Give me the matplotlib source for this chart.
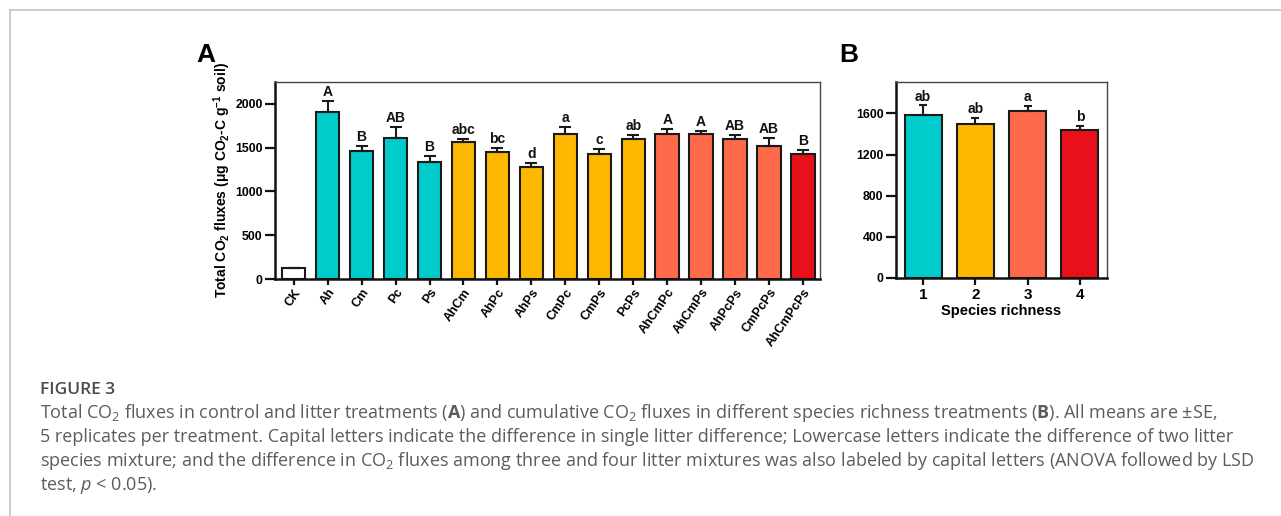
import matplotlib
matplotlib.use("Agg")
import matplotlib.pyplot as plt
from matplotlib.lines import Line2D
import numpy as np

# ---------------- data ----------------
treatments = ["CK", "Ah", "Cm", "Pc", "Ps", "AhCm", "AhPc", "AhPs", "CmPc", "CmPs",
              "PcPs", "AhCmPc", "AhCmPs", "AhPcPs", "CmPcPs", "AhCmPcPs"]
flux_mean = [120, 1912, 1463, 1608, 1341, 1569, 1455, 1276, 1661, 1429,
             1603, 1661, 1661, 1597, 1520, 1429]
flux_se = [10, 122, 60, 129, 65, 34, 39, 46, 73, 53, 46, 53, 27, 45, 95, 45]
flux_letters = ["", "A", "B", "AB", "B", "abc", "bc", "d", "a", "c", "ab",
                "A", "A", "AB", "AB", "B"]
flux_richness = [0, 1, 1, 1, 1, 2, 2, 2, 2, 2, 2, 3, 3, 3, 3, 4]

richness = ["1", "2", "3", "4"]
rich_mean = [1584, 1500, 1619, 1442]
rich_se = [93, 52, 55, 38]
rich_letters = ["ab", "ab", "a", "b"]

# ---------------- style ----------------
palette = {0: "#ffffff", 1: "#00cccc", 2: "#ffb800", 3: "#ff6a4a", 4: "#e8101a"}
plt.rcParams["mathtext.default"] = "regular"
plt.rcParams["mathtext.fontset"] = "custom"
plt.rcParams["mathtext.rm"] = "Open Sans"
plt.rcParams["mathtext.bf"] = "Open Sans:bold"
plt.rcParams["mathtext.it"] = "Open Sans:italic"
CF = ["Liberation Sans", "DejaVu Sans"]

W, H = 1281, 516
fig = plt.figure(figsize=(W / 100, H / 100), dpi=100)


def box(l, r, t, b):
    return [l / W, 1 - b / H, (r - l) / W, (b - t) / H]


def style_axes(ax):
    for s in ["left", "bottom"]:
        ax.spines[s].set_linewidth(1.8)
        ax.spines[s].set_color("#111111")
    for s in ["top", "right"]:
        ax.spines[s].set_linewidth(1.0)
        ax.spines[s].set_color("#444444")
    ax.tick_params(axis="both", direction="out", length=7, width=1.6, color="#111111", pad=2)
    ax.tick_params(axis="y", labelsize=8.8)
    for lab in ax.get_yticklabels():
        lab.set_fontweight("bold")
        lab.set_family(CF)


# ---------------- panel A ----------------
axA = fig.add_axes(box(275, 820, 82, 279))
x = np.arange(len(treatments))
colA = [palette[r] for r in flux_richness]
axA.bar(x, flux_mean, width=0.69, color=colA, edgecolor="#1a1a1a", linewidth=1.5, zorder=2)
axA.errorbar(x, flux_mean, yerr=[np.zeros(len(x)), flux_se], fmt="none", ecolor="#1a1a1a",
             elinewidth=1.5, capsize=4, capthick=1.5, zorder=3)
for xi, m, s, t in zip(x, flux_mean, flux_se, flux_letters):
    if t:
        axA.text(xi, m + s + 22, t, ha="center", va="bottom", fontsize=10,
                 fontweight="bold", family=CF, color="#111111")
axA.set_xlim(-0.55, len(x) - 0.5)
axA.set_ylim(0, 2250)
axA.set_yticks([0, 500, 1000, 1500, 2000])
axA.set_xticks(x)
axA.set_xticklabels(treatments, rotation=55, ha="right", rotation_mode="anchor",
                    fontsize=9, fontweight="bold", family=CF)
style_axes(axA)
axA.tick_params(axis="x", length=4, pad=1.5)
axA.set_ylabel(r"Total CO$_2$ fluxes (μg CO$_2$-C g$^{-1}$ soil)", fontsize=10,
               fontweight="bold", family=CF, labelpad=1.5)

# ---------------- panel B ----------------
axB = fig.add_axes(box(896, 1107, 82, 278))
xb = np.arange(len(richness))
colB = [palette[i + 1] for i in range(len(richness))]
axB.bar(xb, rich_mean, width=0.71, color=colB, edgecolor="#1a1a1a", linewidth=1.5, zorder=2)
axB.errorbar(xb, rich_mean, yerr=[np.zeros(len(xb)), rich_se], fmt="none", ecolor="#1a1a1a",
             elinewidth=1.5, capsize=3, capthick=1.5, zorder=3)
for xi, m, s, t in zip(xb, rich_mean, rich_se, rich_letters):
    axB.text(xi, m + s + 18, t, ha="center", va="bottom", fontsize=10,
             fontweight="bold", family=CF, color="#111111")
axB.set_xlim(-0.52, len(xb) - 0.48)
axB.set_ylim(0, 1905)
axB.set_yticks([0, 400, 800, 1200, 1600])
axB.set_xticks(xb)
axB.set_xticklabels(richness, fontsize=11, fontweight="bold", family=CF)
style_axes(axB)
axB.tick_params(axis="x", length=5)
axB.set_xlabel("Species richness", fontsize=10.5, fontweight="bold", family=CF, labelpad=1.5)

# panel letters
fig.text(196 / W, 1 - 55 / H, "A", fontsize=19, fontweight="bold", family=CF, va="center")
fig.text(839 / W, 1 - 55 / H, "B", fontsize=19, fontweight="bold", family=CF, va="center")

# ---------------- page frame ----------------
fig.add_artist(Line2D([10 / W, 1], [1 - 10 / H, 1 - 10 / H], color="#c4c4c4", lw=1.2,
                      transform=fig.transFigure))
fig.add_artist(Line2D([10 / W, 10 / W], [0, 1 - 10 / H], color="#c4c4c4", lw=1.2,
                      transform=fig.transFigure))

# ---------------- caption ----------------
cap_color = "#5c5c5c"
cx = 40 / W
fig.text(cx, 1 - 390 / H, "FIGURE 3", fontsize=12.5, fontweight="semibold",
         family="Open Sans", color="#4a4a4a", va="center")
cap_lines = [
    r"Total CO$_2$ fluxes in control and litter treatments ($\mathbf{A}$) and cumulative CO$_2$ fluxes in different species richness treatments ($\mathbf{B}$). All means are ±SE,",
    r"5 replicates per treatment. Capital letters indicate the difference in single litter difference; Lowercase letters indicate the difference of two litter",
    r"species mixture; and the difference in CO$_2$ fluxes among three and four litter mixtures was also labeled by capital letters (ANOVA followed by LSD",
    r"test, $\mathit{p}$ < 0.05).",
]
ys = [413, 437, 461, 485]
for yy, line in zip(ys, cap_lines):
    fig.text(cx, 1 - yy / H, line, fontsize=13.0, family="Open Sans", color=cap_color,
             va="center")

fig.savefig("out.png", dpi=100)
